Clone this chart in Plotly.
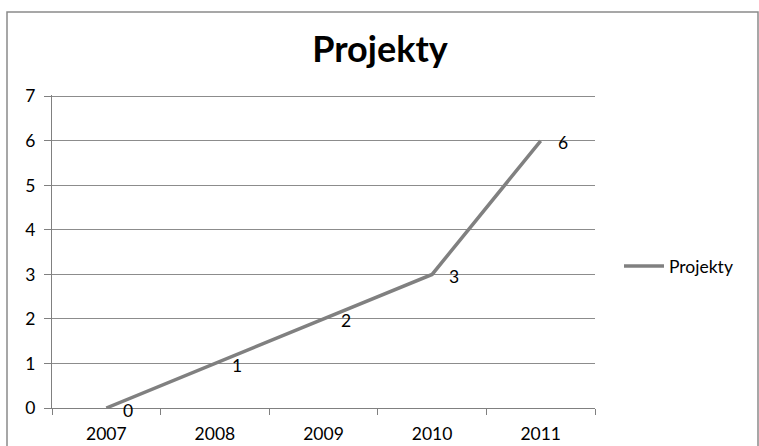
import plotly.graph_objects as go

years = ["2007", "2008", "2009", "2010", "2011"]
projekty = [0, 1, 2, 3, 6]
series_name = "Projekty"
title_text = "Projekty"

W, H = 759, 446
L, R, T, B = 52, 164, 95, 38
pw, ph = W - L - R, H - T - B

def px_x(p):
    return (p - L) / pw

def px_y(p):
    return (H - B - p) / ph

font_family = "Lato, Carlito, Calibri, sans-serif"
grey = "#808080"
fs = 17.5

fig = go.Figure()
fig.add_trace(go.Scatter(
    x=years, y=projekty, mode="lines", name=series_name,
    line=dict(color=grey, width=3.5),
))

for i, yv in enumerate(projekty):
    fig.add_annotation(x=i, y=yv, text=str(yv), showarrow=False,
                       xanchor="left", xshift=15, yshift=-2,
                       font=dict(size=fs, color="#000000", family=font_family))

fig.add_shape(type="rect", xref="paper", yref="paper",
              x0=px_x(7), x1=px_x(758), y0=px_y(452), y1=px_y(12),
              line=dict(color="#8a8a8a", width=1.5), fillcolor="rgba(0,0,0,0)",
              layer="below")

fig.update_layout(
    width=W, height=H,
    margin=dict(l=L, r=R, t=T, b=B, autoexpand=False),
    paper_bgcolor="white", plot_bgcolor="white",
    font=dict(family=font_family, size=fs, color="#000000"),
    title=dict(text="<b>" + title_text + "</b>", x=380 / W, xanchor="center",
               y=1 - 49 / H, yanchor="middle",
               font=dict(size=36, family=font_family, color="#000000")),
    showlegend=True,
    legend=dict(x=px_x(619), y=px_y(266), xanchor="left", yanchor="middle",
                font=dict(size=fs, family=font_family, color="#000000"),
                bgcolor="rgba(0,0,0,0)", itemwidth=40),
    xaxis=dict(type="category", tickson="boundaries", ticks="outside",
               ticklen=6, tickcolor=grey, showline=True, linecolor=grey,
               linewidth=1, showgrid=False, tickfont=dict(size=fs),
               range=[-0.5, 4.5], fixedrange=True, ticklabelstandoff=10,
               automargin=False),
    yaxis=dict(range=[0, 7.03], dtick=1, ticks="outside", ticklen=7,
               tickcolor=grey, showline=True, linecolor=grey, linewidth=1,
               showgrid=True, gridcolor="#8c8c8c", gridwidth=1,
               zeroline=False, tickfont=dict(size=fs), ticklabelstandoff=5,
               fixedrange=True, automargin=False),
)

fig.write_html("out.html", config={"displayModeBar": False},
               post_script="document.body.style.margin='0';")
